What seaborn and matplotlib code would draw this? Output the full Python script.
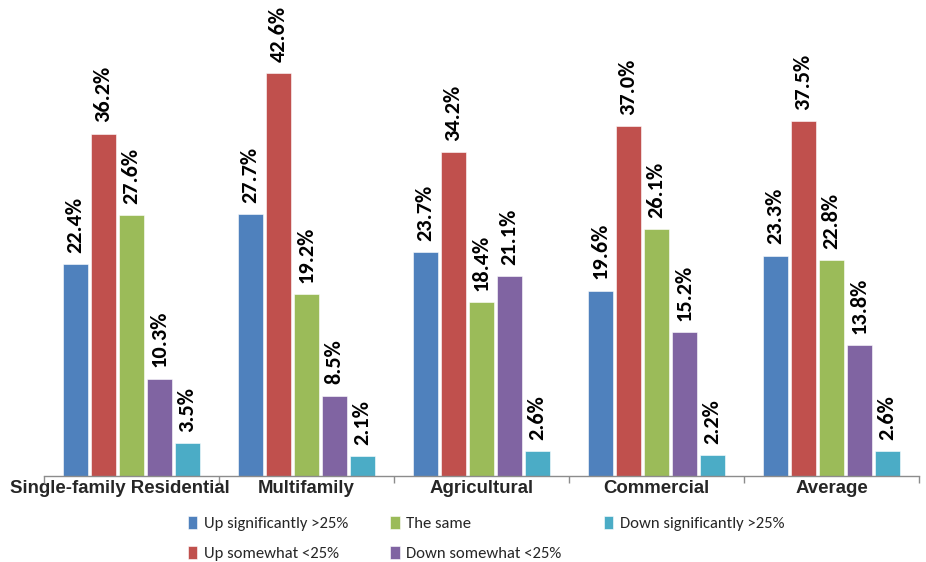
import matplotlib
matplotlib.use("Agg")
import matplotlib.pyplot as plt
import matplotlib.transforms as mtransforms
import seaborn as sns
import pandas as pd
import numpy as np

categories = ["Single-family Residential", "Multifamily", "Agricultural", "Commercial", "Average"]
series = ["Up significantly >25%", "Up somewhat <25%", "The same",
          "Down somewhat <25%", "Down significantly >25%"]
up_significantly = [22.4, 27.7, 23.7, 19.6, 23.3]
up_somewhat = [36.2, 42.6, 34.2, 37.0, 37.5]
the_same = [27.6, 19.2, 18.4, 26.1, 22.8]
down_somewhat = [10.3, 8.5, 21.1, 15.2, 13.8]
down_significantly = [3.5, 2.1, 2.6, 2.2, 2.6]
colors = ["#4F81BD", "#C0504D", "#9BBB59", "#8064A2", "#4BACC6"]

values = [up_significantly, up_somewhat, the_same, down_somewhat, down_significantly]
rows = []
for s, vals in zip(series, values):
    for c, v in zip(categories, vals):
        rows.append({"Category": c, "Change": s, "Percent": v})
df = pd.DataFrame(rows)

sns.set_theme(style="white")
narrow = ["Carlito", "DejaVu Sans"]
plt.rcParams["font.family"] = ["Liberation Sans", "DejaVu Sans"]

fig = plt.figure(figsize=(9.26, 5.62), dpi=100)
ax = fig.add_axes([44 / 926, 86 / 562, 875 / 926, 473 / 562])

sns.barplot(data=df, x="Category", y="Percent", hue="Change", order=categories,
            hue_order=series, palette=colors, width=0.8, gap=0.1, ax=ax,
            edgecolor="white", linewidth=0.4, saturation=1, legend=True)

for cont in ax.containers:
    ax.bar_label(cont, labels=[f"{v:.1f}%" for v in cont.datavalues],
                 rotation=90, padding=8, fontsize=16, fontweight="bold",
                 family=narrow, color="black")

ax.set_ylim(0, 50)
ax.set_xlim(-0.5, len(categories) - 0.5)
ax.set_xlabel("")
ax.set_ylabel("")
ax.set_yticks([])
for side in ["top", "right", "left"]:
    ax.spines[side].set_visible(False)
ax.spines["bottom"].set_color("#8c8c8c")
ax.spines["bottom"].set_linewidth(1.0)

ax.set_xticks(np.arange(len(categories)))
ax.set_xticklabels(categories, fontsize=13.4, fontweight="bold")
ax.tick_params(axis="x", which="major", length=0, pad=3)
ax.set_xticks(np.arange(len(categories) + 1) - 0.5, minor=True)
ax.tick_params(axis="x", which="minor", length=5, color="#8c8c8c", width=1,
               direction="out", bottom=True)

# the long first category name sits a little to the left, as it would overflow otherwise
first = ax.get_xticklabels()[0]
first.set_transform(first.get_transform() +
                    mtransforms.ScaledTranslation(-12 / 100, 0, fig.dpi_scale_trans))

handles, labels = ax.get_legend_handles_labels()
ax.get_legend().remove()
fig.legend(handles, labels, loc="center", bbox_to_anchor=(486 / 926, 1 - 538.5 / 562),
           ncol=3, frameon=False, prop={"family": narrow, "size": 12},
           handlelength=0.55, handleheight=0.85, handletextpad=0.4,
           columnspacing=2.55, labelspacing=0.9)

fig.savefig("out.png", dpi=100)
